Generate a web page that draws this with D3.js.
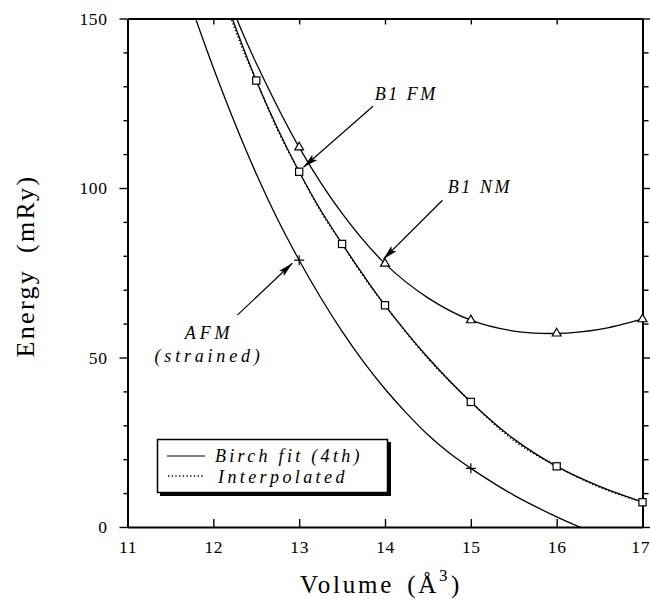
<!DOCTYPE html>
<html>
<head>
<meta charset="utf-8">
<script src="https://cdn.jsdelivr.net/npm/d3@7"></script>
<style>
  html, body { margin: 0; padding: 0; background: #fff; }
  svg { display: block; }
  svg text { font-family: "Liberation Serif", "DejaVu Serif", "Times New Roman", Times, serif; }
</style>
</head>
<body>
<svg id="chart" width="650" height="605"></svg>
<script>
// ---------------- data ----------------
const xTicks = [11, 12, 13, 14, 15, 16, 17];
const xTopTicks = [12, 13, 14, 15, 16];
const yTicks = [0, 50, 100, 150];
const yMinorTicks = [10, 20, 30, 40, 60, 70, 80, 90, 110, 120, 130, 140];

// B1 FM (squares)
const fmVolumes = [12.5, 13, 13.5, 14, 15, 16, 17];
const fmEnergies = [131.7, 104.8, 83.5, 65.4, 36.9, 17.9, 7.3];
// B1 NM (triangles)
const nmVolumes = [13, 14, 15, 16, 17];
const nmEnergies = [112.0, 77.7, 61.0, 57.1, 61.3];
// AFM strained (crosses)
const afmVolumes = [13, 15];
const afmEnergies = [78.7, 17.3];

// Birch fit (4th) curves
const fmFitV = [12.22, 12.5, 12.75, 13, 13.25, 13.5, 13.75, 14, 14.5, 15, 15.5, 16, 16.5, 17];
const fmFitE = [150, 131.7, 117.5, 104.8, 93.5, 83.6, 74.2, 65.4, 50.0, 36.9, 26.0, 17.9, 12.0, 7.4];
const nmFitV = [12.27, 12.5, 13, 13.5, 14, 14.5, 15, 15.5, 16, 16.5, 17];
const nmFitE = [150, 136.8, 112, 92.5, 77.7, 67.6, 61.0, 57.8, 57.1, 58.3, 61.3];
const afmFitV = [11.8, 12, 12.25, 12.5, 12.75, 13, 13.25, 13.5, 13.75, 14, 14.25, 14.5, 14.75, 15, 15.5, 16, 16.27, 16.5];
const afmFitE = [149.5, 135.5, 119.2, 104.2, 90.7, 78.7, 67.7, 57.7, 48.7, 40.7, 33.6, 27.2, 21.8, 17.3, 9.4, 3.0, 0, -2.2];
// Interpolated (dotted) curve
const interpV = [12.2, 12.35, 12.5, 12.75, 13, 13.25, 13.5, 13.75, 14, 14.5, 15, 15.5, 16, 16.5, 17];
const interpE = [150.5, 140.4, 131.7, 117.0, 104.8, 93.1, 83.5, 73.9, 65.4, 49.7, 36.9, 25.5, 17.9, 11.7, 7.3];

// annotations: text lines, text anchor (V,E), arrow from (V,E), arrow tip (V,E)
const annotations = [
  { lines: ["B1 FM"], at: [13.88, 126.1], anchor: "start", spacing: 2.5, from: [13.86, 124.1], to: [13.05, 106.1] },
  { lines: ["B1 NM"], at: [14.73, 98.4], anchor: "start", spacing: 2.6, from: [14.67, 96.4], to: [13.98, 79.0] },
  { lines: ["AFM", "(strained)"], at: [11.95, 55.6], anchor: "middle", spacing: 3.8, from: [12.28, 62.5], to: [12.92, 77.8] }
];

// ---------------- chart ----------------
const FONT = "'Liberation Serif', 'DejaVu Serif', 'Times New Roman', Times, serif";
const svg = d3.select("#chart");
const x = d3.scaleLinear().domain([11, 17]).range([127.5, 642.5]);
const y = d3.scaleLinear().domain([0, 150]).range([527, 18.5]);

const defs = svg.append("defs");
defs.append("clipPath").attr("id", "plotclip")
  .append("rect").attr("x", x(11)).attr("y", y(150))
  .attr("width", x(17) - x(11)).attr("height", y(0) - y(150));

defs.append("marker")
  .attr("id", "arrow").attr("markerUnits", "userSpaceOnUse")
  .attr("viewBox", "0 -4 15 8").attr("refX", 15).attr("refY", 0)
  .attr("markerWidth", 15).attr("markerHeight", 8).attr("orient", "auto")
  .append("path").attr("d", "M0,-3.6L15,0L0,3.6L3,0Z").attr("fill", "#000");

function styleAxis(g, w) {
  g.attr("font-family", FONT);
  g.select(".domain").attr("stroke", "#000").attr("stroke-width", w);
  g.selectAll(".tick line").attr("stroke", "#000").attr("stroke-width", 1.4);
  g.selectAll(".tick text").attr("fill", "#000")
    .style("font-family", FONT).attr("font-size", 17.5)
    .attr("letter-spacing", 0.6);
}

// left axis
const gl = svg.append("g").attr("transform", `translate(${x(11)},0)`)
  .call(d3.axisLeft(y).tickValues(yTicks).tickSize(8).tickSizeOuter(0).tickPadding(12).tickFormat(d3.format("d")));
styleAxis(gl, 2);
const glm = svg.append("g").attr("transform", `translate(${x(11)},0)`)
  .call(d3.axisLeft(y).tickValues(yMinorTicks).tickSize(4).tickSizeOuter(0).tickFormat(""));
styleAxis(glm, 2);

// right axis
const gr = svg.append("g").attr("transform", `translate(${x(17)},0)`)
  .call(d3.axisRight(y).tickValues(yTicks).tickSize(9).tickSizeOuter(0).tickFormat(""));
styleAxis(gr, 2);
const grm = svg.append("g").attr("transform", `translate(${x(17)},0)`)
  .call(d3.axisRight(y).tickValues(yMinorTicks).tickSize(6).tickSizeOuter(0).tickFormat(""));
styleAxis(grm, 2);

// bottom axis
const gb = svg.append("g").attr("transform", `translate(0,${y(0)})`)
  .call(d3.axisBottom(x).tickValues(xTicks).tickSizeInner(-8).tickSizeOuter(0).tickPadding(13.5).tickFormat(d3.format("d")));
styleAxis(gb, 2.2);
gb.selectAll(".tick line").filter(d => d === 11 || d === 17).remove();
// keep the last label inside the 650px window
gb.selectAll(".tick text").filter(d => d === 17).attr("text-anchor", "end").attr("x", 7);

// top axis
const gt = svg.append("g").attr("transform", `translate(0,${y(150)})`)
  .call(d3.axisTop(x).tickValues(xTopTicks).tickSizeInner(-6).tickSizeOuter(0).tickFormat(""));
styleAxis(gt, 2);

// axis titles
const yt = svg.append("text")
  .attr("transform", `translate(34,266) rotate(-90)`)
  .style("font-family", FONT)
  .attr("text-anchor", "middle").attr("font-size", 26).attr("letter-spacing", 2.3).attr("fill", "#000");
yt.append("tspan").text("Energy");
yt.append("tspan").attr("dx", 16).text("(mRy)");

const xt = svg.append("text")
  .attr("x", 300).attr("y", 593)
  .style("font-family", FONT)
  .attr("font-size", 25).attr("letter-spacing", 2.8).attr("fill", "#000");
xt.append("tspan").text("Volume");
xt.append("tspan").attr("dx", 13).text("(Å");
xt.append("tspan").attr("dy", -12).attr("font-size", 17).attr("letter-spacing", 1.5).text("3");
xt.append("tspan").attr("dy", 12).attr("dx", 2).text(")");

// curves
const plot = svg.append("g").attr("clip-path", "url(#plotclip)");
const line = d3.line().x(d => x(d[0])).y(d => y(d[1])).curve(d3.curveCatmullRom.alpha(0.5));

function curve(vs, es, dash, w) {
  plot.append("path").datum(d3.zip(vs, es)).attr("d", line)
    .attr("fill", "none").attr("stroke", "#000").attr("stroke-width", w)
    .attr("stroke-dasharray", dash);
}
curve(interpV, interpE, "1.3,2.2", 1.4);
curve(fmFitV, fmFitE, null, 1.3);
curve(nmFitV, nmFitE, null, 1.3);
curve(afmFitV, afmFitE, null, 1.3);

// markers
const mk = svg.append("g");
mk.selectAll("rect.fm").data(d3.zip(fmVolumes, fmEnergies)).join("rect")
  .attr("x", d => x(d[0]) - 3.6).attr("y", d => y(d[1]) - 3.6)
  .attr("width", 7.2).attr("height", 7.2)
  .attr("fill", "#fff").attr("stroke", "#000").attr("stroke-width", 1.2);
const tri = d3.symbol().type(d3.symbolTriangle).size(34);
mk.selectAll("path.nm").data(d3.zip(nmVolumes, nmEnergies)).join("path")
  .attr("transform", d => `translate(${x(d[0])},${y(d[1])})`)
  .attr("d", tri).attr("fill", "#fff").attr("stroke", "#000").attr("stroke-width", 1.2);
mk.selectAll("path.afm").data(d3.zip(afmVolumes, afmEnergies)).join("path")
  .attr("transform", d => `translate(${x(d[0])},${y(d[1])})`)
  .attr("d", "M-5,0H5M0,-5V5").attr("fill", "none").attr("stroke", "#000").attr("stroke-width", 1.2);

// annotations
annotations.forEach(a => {
  svg.append("line")
    .attr("x1", x(a.from[0])).attr("y1", y(a.from[1]))
    .attr("x2", x(a.to[0])).attr("y2", y(a.to[1]))
    .attr("stroke", "#000").attr("stroke-width", 1.2).attr("marker-end", "url(#arrow)");
  const t = svg.append("text").attr("x", x(a.at[0])).attr("y", y(a.at[1]))
    .style("font-family", FONT)
    .attr("text-anchor", a.anchor).attr("font-style", "italic")
    .attr("font-size", 18).attr("letter-spacing", a.spacing).attr("fill", "#000");
  a.lines.forEach((l, i) => {
    t.append("tspan").attr("x", x(a.at[0])).attr("dy", i === 0 ? 0 : 23.5).text(l);
  });
});

// legend
const lg = svg.append("g");
lg.append("rect").attr("x", 160).attr("y", 442).attr("width", 231).attr("height", 54).attr("fill", "#000");
lg.append("rect").attr("x", 157.5).attr("y", 439.5).attr("width", 230).attr("height", 53)
  .attr("fill", "#fff").attr("stroke", "#000").attr("stroke-width", 1.5);
lg.append("line").attr("x1", 167).attr("x2", 205).attr("y1", 456).attr("y2", 456)
  .attr("stroke", "#000").attr("stroke-width", 1.2);
lg.append("line").attr("x1", 168).attr("x2", 205).attr("y1", 476).attr("y2", 476)
  .attr("stroke", "#000").attr("stroke-width", 1.3).attr("stroke-dasharray", "1.3,2.4");
lg.append("text").attr("x", 215).attr("y", 462).style("font-family", FONT).attr("font-style", "italic")
  .attr("font-size", 18).attr("letter-spacing", 3.3).attr("fill", "#000").text("Birch fit (4th)");
lg.append("text").attr("x", 218).attr("y", 482.5).style("font-family", FONT).attr("font-style", "italic")
  .attr("font-size", 18).attr("letter-spacing", 3.4).attr("fill", "#000").text("Interpolated");
</script>
</body>
</html>
